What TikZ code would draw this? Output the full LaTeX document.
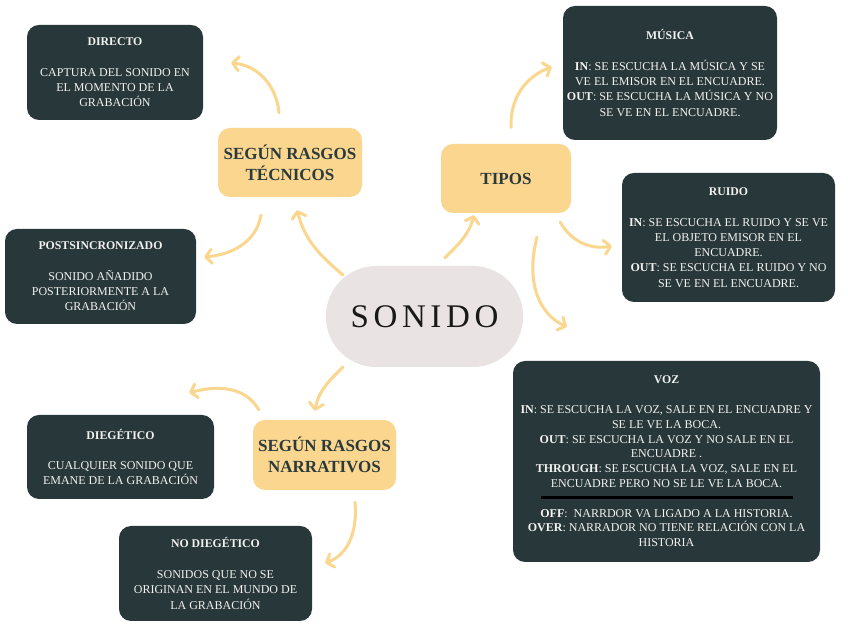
\documentclass[tikz,border=0pt]{standalone}
\usepackage{fontspec}
\setmainfont{Liberation Serif}
\usetikzlibrary{arrows.meta,calc}
\definecolor{darkbox}{HTML}{283739}
\definecolor{ybox}{HTML}{FAD68F}
\definecolor{pillc}{HTML}{E9E3E4}
\definecolor{ytext}{HTML}{2B3A3C}
\definecolor{boxtext}{HTML}{F2F2F0}
\definecolor{arrowc}{HTML}{FAD68F}
\begin{document}
\begin{tikzpicture}[x=1pt,y=1pt,
  darknode/.style={fill=darkbox, text=boxtext, rounded corners=12pt, align=center, inner sep=0pt,
    font=\fontsize{12}{15.3}\selectfont},
  ynode/.style={fill=ybox, text=ytext, rounded corners=12pt, align=center, inner sep=0pt,
    font=\fontsize{17}{21}\selectfont\bfseries},
  conn/.style={draw=arrowc, line width=3pt, line cap=round,
    -{Straight Barb[length=6pt,width=14pt,round]}}]
\newcommand{\ttlfont}{\fontsize{11.8}{15.3}\selectfont\bfseries}
\useasboundingbox[fill=white] (0,0) rectangle (848,636);

% central
\node[fill=pillc, rounded corners=50pt, minimum width=197pt, minimum height=101pt, inner sep=0pt,
  font=\fontsize{33}{36}\selectfont\addfontfeatures{LetterSpace=14}, text=black!90]
  (sonido) at (424.5,319.5) {SONIDO};

% yellow
\node[ynode, minimum width=144pt, minimum height=69pt] (tec) at (290,473.5) {SEGÚN RASGOS\\TÉCNICOS};
\node[ynode, minimum width=130pt, minimum height=69pt] (tipos) at (506,457.5) {TIPOS};
\node[ynode, minimum width=143pt, minimum height=70pt] (narr) at (324.5,181) {SEGÚN RASGOS\\NARRATIVOS};

% dark boxes
\node[darknode, minimum width=176pt, minimum height=95pt] (directo) at (115,563.5)
  {{\ttlfont DIRECTO}\\[15.3pt]CAPTURA DEL SONIDO EN\\EL MOMENTO DE LA\\GRABACIÓN};
\node[darknode, minimum width=191pt, minimum height=95pt] (post) at (100.5,359.5)
  {{\ttlfont POSTSINCRONIZADO}\\[15.3pt]SONIDO AÑADIDO\\POSTERIORMENTE A LA\\GRABACIÓN};
\node[darknode, minimum width=187pt, minimum height=84pt] (dieg) at (120.5,179)
  {{\ttlfont DIEGÉTICO}\\[15.3pt]CUALQUIER SONIDO QUE\\EMANE DE LA GRABACIÓN};
\node[darknode, minimum width=193pt, minimum height=95pt] (nodieg) at (215.5,62.5)
  {{\ttlfont NO DIEGÉTICO}\\[15.3pt]SONIDOS QUE NO SE\\ORIGINAN EN EL MUNDO DE\\LA GRABACIÓN};
\node[darknode, minimum width=214pt, minimum height=134pt] (musica) at (670,563)
  {{\ttlfont MÚSICA}\\[15.3pt]\textbf{IN}: SE ESCUCHA LA MÚSICA Y SE\\VE EL EMISOR EN EL ENCUADRE.\\
   \textbf{OUT}: SE ESCUCHA LA MÚSICA Y NO\\SE VE EN EL ENCUADRE.};
\node[darknode, minimum width=213pt, minimum height=129pt] (ruido) at (728.5,398.5)
  {{\ttlfont RUIDO}\\[15.3pt]\textbf{IN}: SE ESCUCHA EL RUIDO Y SE VE\\EL OBJETO EMISOR EN EL\\ENCUADRE.\\
   \textbf{OUT}: SE ESCUCHA EL RUIDO Y NO\\SE VE EN EL ENCUADRE.};
\node[darknode, minimum width=307pt, minimum height=201pt, font=\fontsize{12}{14.8}\selectfont] (voz) at (666.5,174.5)
  {{\ttlfont VOZ}\\[14.8pt]\textbf{IN}: SE ESCUCHA LA VOZ, SALE EN EL ENCUADRE Y\\SE LE VE LA BOCA.\\
   \textbf{OUT}: SE ESCUCHA LA VOZ Y NO SALE EN EL\\ENCUADRE .\\
   \textbf{THROUGH}: SE ESCUCHA LA VOZ, SALE EN EL\\ENCUADRE PERO NO SE LE VE LA BOCA.\\
   \textcolor{black}{\rule[3pt]{252pt}{3pt}}\\
   \textbf{OFF}:\ \ NARRDOR VA LIGADO A LA HISTORIA.\\
   \textbf{OVER}: NARRADOR NO TIENE RELACIÓN CON LA\\HISTORIA};

% connectors
\draw[conn] ($(sonido.center)+(-81.5,41.5)$) to[out=140,in=-75] ($(tec.south)+(7,-13)$);
\draw[conn] ($(tec.north)+(-11,15)$) to[out=95,in=-5] ($(directo.east)+(28,9.5)$);
\draw[conn] ($(tec.south)+(-29,-18)$) to[out=-100,in=5] ($(post.east)+(8,19.5)$);
\draw[conn] ($(sonido.north)+(20.5,8)$) to[out=45,in=-105] ($(tipos.south)+(-32,-2)$);
\draw[conn] ($(tipos.north)+(5,16.5)$) to[out=92,in=200] ($(musica.west)+(-11,6)$);
\draw[conn] ($(tipos.south east)+(-11,-9)$) to[out=-60,in=190] ($(ruido.west)+(-10,-8.5)$);
\draw[conn] ($(tipos.south)+(31,-24)$) to[out=-105,in=155] ($(voz.north west)+(54,34)$);
\draw[conn] ($(sonido.south west)+(17,0)$) to[out=-135,in=80] ($(narr.north)+(-9.5,9)$);
\draw[conn] ($(narr.north west)+(6,10)$) to[out=120,in=15] ($(dieg.north east)+(-25,22)$);
\draw[conn] ($(narr.south)+(30.5,-12)$) to[out=-85,in=20] ($(nodieg.east)+(13,10.5)$);
\end{tikzpicture}
\end{document}
